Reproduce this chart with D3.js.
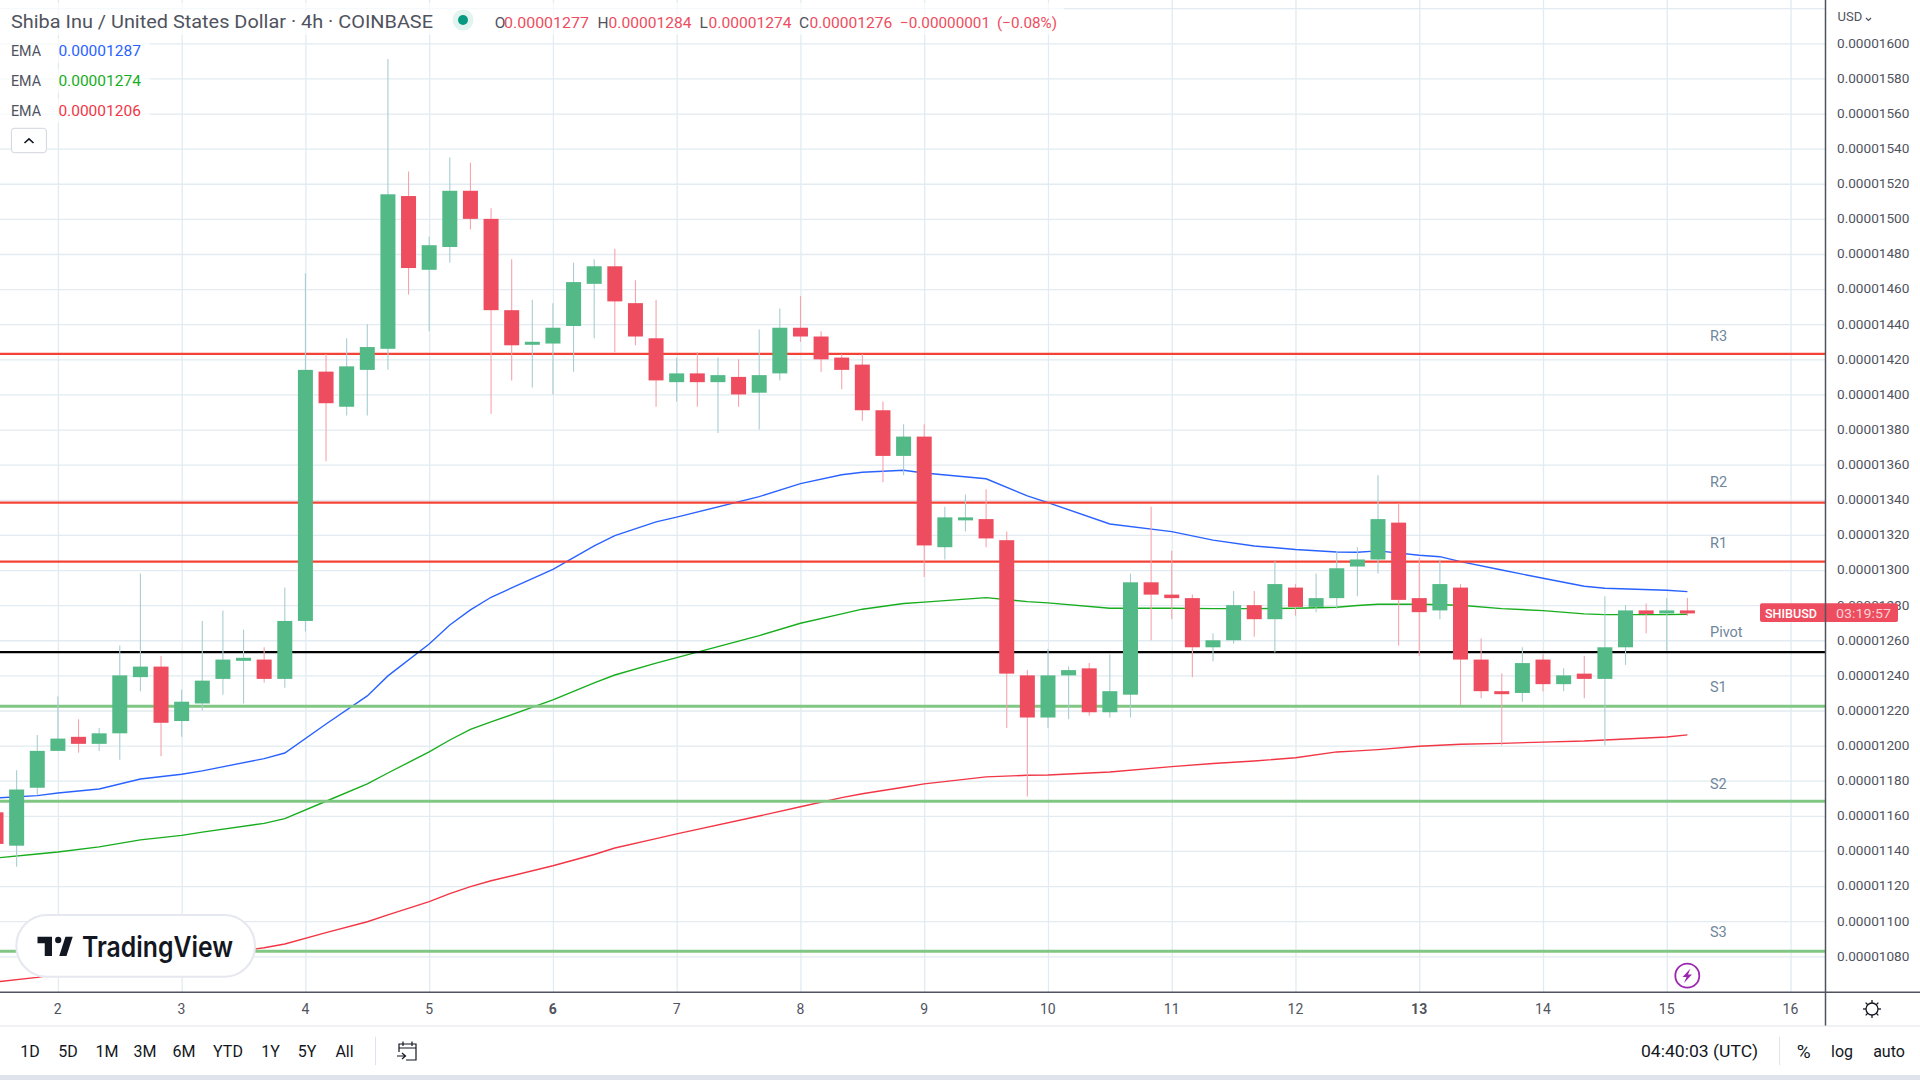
<!DOCTYPE html>
<html>
<head>
<meta charset="utf-8">
<script src="https://cdn.jsdelivr.net/npm/d3@7"></script>
<style>
    html, body { margin: 0; background: #fff; overflow: hidden; }
    text { font-family: Roboto, sans-serif; }
    .grid line { stroke: #e1ebf1; stroke-width: 1.3; }
    .grid path { display: none; }
    .axis path { display: none; }
    .axis line { display: none; }
    .axis text { font-family: Roboto, sans-serif; fill: #50535e; }
</style>
</head>
<body>
<div class="canvas"></div>
<script>
// prices are in units of 0.00000001, first bar is three candles before the "2" day tick
const openPrice = [1162,1143,1176,1197,1205,1201,1207,1239,1245,1214,1224,1238,1249,1249,1238,1271,1413,1393,1414,1426,1513,1471,1484,1516,1500,1448,1429,1429,1439,1463,1473,1452,1432,1407,1412,1407,1410,1401,1412,1438,1433,1421,1417,1391,1365,1376,1313,1329,1329,1317,1240,1216,1240,1244,1219,1229,1293,1286,1284,1256,1260,1280,1272,1290,1279,1284,1302,1306,1327,1284,1277,1290,1249,1231,1230,1249,1235,1241,1238,1256,1277,1276,1277];
const highPrice = [1164,1186,1206,1228,1215,1210,1257,1298,1251,1232,1271,1277,1266,1256,1290,1469,1423,1432,1440,1591,1527,1490,1535,1532,1506,1477,1454,1452,1475,1477,1483,1465,1454,1421,1424,1421,1420,1437,1449,1456,1436,1423,1423,1396,1383,1383,1336,1343,1346,1322,1243,1255,1245,1247,1252,1298,1336,1311,1286,1264,1288,1288,1305,1292,1298,1311,1313,1354,1338,1307,1306,1292,1261,1241,1256,1252,1244,1251,1285,1280,1281,1284,1284];
const lowPrice = [1144,1131,1172,1197,1196,1197,1192,1231,1194,1205,1220,1229,1224,1236,1233,1265,1362,1388,1388,1414,1457,1436,1475,1494,1389,1408,1404,1400,1413,1432,1424,1428,1393,1396,1393,1378,1393,1380,1408,1430,1413,1403,1385,1350,1354,1296,1306,1322,1313,1210,1171,1210,1215,1217,1216,1216,1260,1272,1239,1248,1258,1262,1253,1274,1276,1278,1285,1298,1257,1251,1272,1223,1227,1200,1225,1231,1231,1227,1200,1246,1264,1254,1274];
const closePrice = [1144,1175,1197,1204,1201,1207,1240,1245,1213,1225,1237,1249,1250,1238,1271,1414,1395,1416,1427,1514,1472,1485,1516,1500,1448,1428,1430,1438,1464,1473,1453,1433,1408,1412,1407,1411,1400,1411,1438,1433,1420,1414,1391,1365,1376,1314,1330,1330,1318,1241,1216,1240,1243,1219,1231,1293,1286,1284,1256,1260,1280,1272,1292,1279,1284,1301,1306,1329,1283,1276,1292,1249,1231,1230,1247,1235,1240,1238,1256,1277,1275,1277,1276];
const firstBar = -3;

// EMA readings at these bars
const emaBars = [-3,-1,0,2,4,6,7,10,11,13,15,16,18,19,20,21,24,26,27,29,30,34,36,38,39,41,42,45,47,48,51,54,56,58,60,62,63,64,66,67,68,70,72,74,75,78,79];
const emaBlue = [1170.2,1171.5,1173,1175.3,1181,1183.7,1185.6,1192.6,1195.8,1212.3,1228.3,1239.7,1257.9,1268.7,1277.3,1284.5,1300.4,1313.7,1319.6,1327.4,1330.1,1341.8,1349.2,1354.3,1355.7,1356.8,1355.3,1352,1342.2,1338.4,1326.2,1321.9,1317,1313.7,1311.7,1310.3,1310.1,1310.9,1308.4,1307.6,1304.8,1300,1295.3,1290.8,1289.6,1288.5,1287.7];
const emaGreen = [1136,1138.3,1139.4,1142.3,1146.3,1148.9,1150.7,1155.7,1158.4,1168.3,1178.2,1184.4,1196.4,1203.2,1209.3,1213.5,1226,1235.7,1240.2,1247,1250.1,1262.6,1269.7,1275,1277.7,1280.9,1281.7,1284.3,1282,1281.3,1278.2,1278.2,1278,1278,1278.2,1278.8,1279.8,1280.5,1280.5,1280.2,1279.9,1278,1276.9,1275,1274.6,1274.6,1274.8];
const emaRed = [1065.4,1068,1069.7,1072.6,1075.5,1078.4,1080,1084.9,1087,1093.5,1099.7,1103.6,1111.1,1115.7,1119.7,1123,1131.6,1138,1141.7,1147,1149.7,1159.9,1165.2,1170.4,1172.6,1176.3,1178.2,1182.2,1183.1,1183.3,1185,1188,1189.8,1191.2,1193.1,1196.4,1197,1197.7,1199.6,1200.2,1200.8,1201.3,1202,1202.6,1203.2,1204.9,1206.1];

const pivotNames = ['R3', 'R2', 'R1', 'Pivot', 'S1', 'S2', 'S3'];
const pivotLevels = [1423.1, 1338.4, 1304.8, 1253.3, 1222.4, 1168.3, 1082.9];
const pivotLabels = [1433.5, 1350.3, 1315.6, 1265, 1233.6, 1178, 1094];

const gridPrices = d3.range(1080, 1621, 20);
const priceTicks = d3.range(1080, 1601, 20);
const dayLabels = ['2','3','4','5','6','7','8','9','10','11','12','13','14','15','16'];
const boldDays = ['6', '13'];
const dayBars = dayLabels.map((d, i) => i * 6);
const ranges = ['1D','5D','1M','3M','6M','YTD','1Y','5Y','All'];
const rangeCentres = [30,68,107,145,184,228,270.5,307,344.5];
const emaLegend = ['0.00001287', '0.00001274', '0.00001206'];

const upColor = '#53b987', downColor = '#ed4d5e', upWick = '#a8cdd0', downWick = '#f6a3ac';
const blue = '#2962ff', green = '#18ad1e', red = '#f23645';
const levelColors = ['#f44336','#f44336','#f44336','#000000','#81c784','#81c784','#81c784'];
const levelWidths = [2.2, 2.2, 2.2, 2.2, 3, 3, 3];

const width = 1920, height = 1080, axisX = 1825.5, axisY = 992.3;

const svg = d3.select('.canvas')
    .append('svg')
    .attr('width', width)
    .attr('height', height)
    .style('display', 'block')
    ;

const xScale = d3.scaleLinear().domain([0, 79]).range([57.9, 1687.4]);
const yScale = d3.scaleLinear().domain([1600, 1080]).range([43.3, 956.3]);

svg.append('rect').attr('width', width).attr('height', height).attr('fill', '#fff');

//Add grid
svg.append('g')
    .attr('class', 'grid')
    .attr('transform', 'translate(0, 0)')
    .call(d3.axisRight(yScale).tickValues(gridPrices).tickSize(axisX).tickFormat(''))
    ;
svg.append('g')
    .attr('class', 'grid')
    .attr('transform', `translate(0, ${axisY})`)
    .call(d3.axisTop(xScale).tickValues(dayBars).tickSize(axisY).tickFormat(''))
    ;

//Add EMA lines
const emaLine = d3.line().x((d) => xScale(d[0])).y((d) => yScale(d[1]));
[[emaRed, red], [emaGreen, green], [emaBlue, blue]].forEach(([values, color]) => {
    svg.append('path')
        .datum(values.map((v, i) => [emaBars[i], v]))
        .attr('d', emaLine)
        .attr('fill', 'none')
        .attr('stroke', color)
        .attr('stroke-width', 1.4);
});

//Add pivot levels
svg.selectAll('.level')
    .data(pivotLevels)
    .enter()
    .append('line')
    .attr('class', 'level')
    .attr('x1', 0)
    .attr('x2', axisX)
    .attr('y1', (d) => yScale(d))
    .attr('y2', (d) => yScale(d))
    .attr('stroke', (d, i) => levelColors[i])
    .attr('stroke-width', (d, i) => levelWidths[i]);

svg.selectAll('.level-label')
    .data(pivotLabels)
    .enter()
    .append('text')
    .attr('class', 'level-label')
    .attr('x', 1710)
    .attr('y', (d) => yScale(d))
    .attr('dy', '0.35em')
    .attr('fill', '#6f869b')
    .attr('font-size', 14.5)
    .text((d, i) => pivotNames[i]);

//Add candles
const candles = openPrice.map((o, i) => ({
    bar: i + firstBar, o, h: highPrice[i], l: lowPrice[i], c: closePrice[i]
}));
const isUp = (d) => d.c >= d.o;

svg.selectAll('.wick')
    .data(candles)
    .enter()
    .append('line')
    .attr('class', 'wick')
    .attr('x1', (d) => xScale(d.bar))
    .attr('x2', (d) => xScale(d.bar))
    .attr('y1', (d) => yScale(d.h))
    .attr('y2', (d) => yScale(d.l))
    .attr('stroke', (d) => isUp(d) ? upWick : downWick)
    .attr('stroke-width', 1.1);

svg.selectAll('.body')
    .data(candles)
    .enter()
    .append('rect')
    .attr('class', 'body')
    .attr('x', (d) => xScale(d.bar) - 7.5)
    .attr('width', 15)
    .attr('y', (d) => yScale(Math.max(d.o, d.c)))
    .attr('height', (d) => Math.max(3, Math.abs(yScale(d.o) - yScale(d.c))))
    .attr('fill', (d) => isUp(d) ? upColor : downColor);

//Add axes
svg.append('rect').attr('x', axisX).attr('y', 0).attr('width', width - axisX).attr('height', 1026).attr('fill', '#fff');
svg.append('g')
    .attr('class', 'axis')
    .attr('transform', `translate(1837, -0.5)`)
    .call(d3.axisRight(yScale).tickValues(priceTicks).tickSize(0).tickPadding(0)
        .tickFormat((d) => (d / 1e8).toFixed(8)))
    .call(g => g.selectAll('text').attr('font-size', 13.6).attr('fill', '#50535e'))
    ;
svg.append('g')
    .attr('class', 'axis')
    .attr('transform', `translate(-0.6, 1014)`)
    .call(d3.axisBottom(xScale).tickValues(dayBars).tickSize(0).tickPadding(0)
        .tickFormat((d, i) => dayLabels[i]))
    .call(g => g.selectAll('text')
        .attr('y', 0)
        .attr('dy', 0)
        .attr('font-size', 14)
        .attr('font-weight', (d, i) => boldDays.includes(dayLabels[i]) ? 700 : 400))
    ;
const frame = svg.append('g').attr('stroke', '#50535e').attr('stroke-width', 1.5);
frame.append('line').attr('x1', 0).attr('x2', axisX).attr('y1', axisY).attr('y2', axisY);
frame.append('line').attr('x1', axisX).attr('x2', width).attr('y1', axisY).attr('y2', axisY);
frame.append('line').attr('x1', axisX).attr('x2', axisX).attr('y1', 0).attr('y2', 1026);

//Add header
const label = (x, y, text, size, color, anchor, fit) => {
    const t = svg.append('text')
        .attr('x', x)
        .attr('y', y)
        .attr('dy', '0.35em')
        .attr('font-size', size)
        .attr('fill', color)
        .attr('text-anchor', anchor || 'start')
        .text(text);
    if (fit) t.attr('textLength', fit).attr('lengthAdjust', 'spacingAndGlyphs');
    return t;
};

svg.append('rect').attr('x', 0).attr('y', 3).attr('width', 1064).attr('height', 32).attr('fill', '#fff').attr('opacity', 0.7);
label(11, 21.8, 'Shiba Inu / United States Dollar · 4h · COINBASE', 18.5, '#50535e', 'start', 422);
svg.append('circle').attr('cx', 463).attr('cy', 20).attr('r', 10.5).attr('fill', '#e2f3f0');
svg.append('circle').attr('cx', 463).attr('cy', 20).attr('r', 5).attr('fill', '#089981');

const ohlcColor = '#ed4d5e';
label(494.7, 22.7, 'O', 15.5, '#50535e');
label(504, 22.7, '0.00001277', 15.5, ohlcColor, 'start', 85);
label(597.6, 22.7, 'H', 15.5, '#50535e');
label(608.5, 22.7, '0.00001284', 15.5, ohlcColor, 'start', 83);
label(699.6, 22.7, 'L', 15.5, '#50535e');
label(708.6, 22.7, '0.00001274', 15.5, ohlcColor, 'start', 83);
label(799, 22.7, 'C', 15.5, '#50535e');
label(809.4, 22.7, '0.00001276', 15.5, ohlcColor, 'start', 83);
label(900, 22.7, '−0.00000001', 15.5, ohlcColor, 'start', 90);
label(997, 22.7, '(−0.08%)', 15.5, ohlcColor, 'start', 60);

[blue, green, red].forEach((c, i) => {
    const y = 50.7 + i * 30;
    svg.append('rect').attr('x', 0).attr('y', y - 12).attr('width', 150).attr('height', 24).attr('fill', '#fff').attr('opacity', 0.7);
    label(11, y, 'EMA', 15, '#50535e', 'start', 30);
    label(58.4, y, emaLegend[i], 15.5, c, 'start', 82.5);
});

svg.append('rect').attr('x', 11.4).attr('y', 128.3).attr('width', 35).attr('height', 24.4).attr('rx', 3)
    .attr('fill', '#fff').attr('stroke', '#d1d4dc');
svg.append('path').attr('d', 'M24.5 143 L29 138.8 L33.5 143').attr('fill', 'none').attr('stroke', '#131722').attr('stroke-width', 1.6);

//Add price tag
svg.append('rect').attr('x', 1760).attr('y', 603.3).attr('width', 138).attr('height', 18.7).attr('rx', 2).attr('fill', '#ed4d5e');
svg.append('line').attr('x1', axisX).attr('x2', axisX).attr('y1', 603.3).attr('y2', 622).attr('stroke', '#50535e').attr('stroke-width', 1.5);
label(1765, 613, 'SHIBUSD', 13.5, '#fff', 'start', 52).attr('font-weight', 500);
label(1836, 613, '03:19:57', 13.5, '#f9d0d5', 'start', 55);

svg.append('text').attr('x', 1837.5).attr('y', 16).attr('dy', '0.35em').attr('font-size', 13).attr('fill', '#50535e').text('USD');
svg.append('path').attr('d', 'M1866 18 L1868.5 20.5 L1871 18').attr('fill', 'none').attr('stroke', '#50535e').attr('stroke-width', 1.2);

//Add TradingView badge
const badge = svg.append('g');
badge.append('rect').attr('x', 16.3).attr('y', 915).attr('width', 238.7).attr('height', 61.7).attr('rx', 30.8)
    .attr('fill', '#fff').attr('stroke', '#e6e8f0').attr('stroke-width', 2);
const logo = badge.append('g').attr('transform', 'translate(37.5, 930.3) scale(1.035, 1.07)').attr('fill', '#131722');
logo.append('path').attr('d', 'M14 6H0v6h7v12h7V6Z');
logo.append('path').attr('d', 'M28 24h-7l6-18h7l-6 18Z');
logo.append('circle').attr('cx', 20).attr('cy', 9).attr('r', 3);
label(82, 947.5, 'TradingView', 28, '#131722', 'start', 151).attr('font-weight', 600).style('font-family', 'Inter, sans-serif');

//Add lightning mark
svg.append('circle').attr('cx', 1687.3).attr('cy', 975.7).attr('r', 12).attr('fill', '#fff').attr('stroke', '#9c27b0').attr('stroke-width', 1.8);
svg.append('path').attr('d', 'M1690.5 968.5 L1682.5 977 L1686.5 977 L1684 983 L1692 974.5 L1688 974.5 Z').attr('fill', '#9c27b0');

//Add settings icon
const sun = svg.append('g').attr('transform', 'translate(1872, 1009)').attr('fill', 'none').attr('stroke', '#131722').attr('stroke-width', 1.3);
sun.append('circle').attr('r', 6);
d3.range(8).forEach((k) => {
    const a = k * Math.PI / 4;
    sun.append('line').attr('x1', Math.cos(a) * 6).attr('y1', Math.sin(a) * 6).attr('x2', Math.cos(a) * 9).attr('y2', Math.sin(a) * 9);
});

//Add bottom toolbar
svg.append('line').attr('x1', 0).attr('x2', width).attr('y1', 1026).attr('y2', 1026).attr('stroke', '#e0e3eb').attr('stroke-width', 1.2);
svg.append('rect').attr('x', 0).attr('y', 1075).attr('width', width).attr('height', 5).attr('fill', '#dfe3ec');
ranges.forEach((r, i) => label(rangeCentres[i], 1051, r, 16, '#131722', 'middle'));
svg.append('line').attr('x1', 375.5).attr('x2', 375.5).attr('y1', 1036.7).attr('y2', 1065).attr('stroke', '#e0e3eb');
svg.append('line').attr('x1', 1779.6).attr('x2', 1779.6).attr('y1', 1036.7).attr('y2', 1065).attr('stroke', '#e0e3eb');
svg.append('path')
    .attr('d', 'M399 1052 V1044 H416 V1060 H406 M399 1048 H416 M403 1041.5 V1046 M412 1041.5 V1046 M397 1056 H405 M402 1053 L405.5 1056 L402 1059')
    .attr('fill', 'none').attr('stroke', '#131722').attr('stroke-width', 1.2);
label(1641, 1051, '04:40:03 (UTC)', 16.5, '#131722', 'start', 117);
label(1803.7, 1051, '%', 19, '#131722', 'middle');
label(1842, 1051, 'log', 16, '#131722', 'middle');
label(1889, 1051, 'auto', 16, '#131722', 'middle');
</script>
</body>
</html>
